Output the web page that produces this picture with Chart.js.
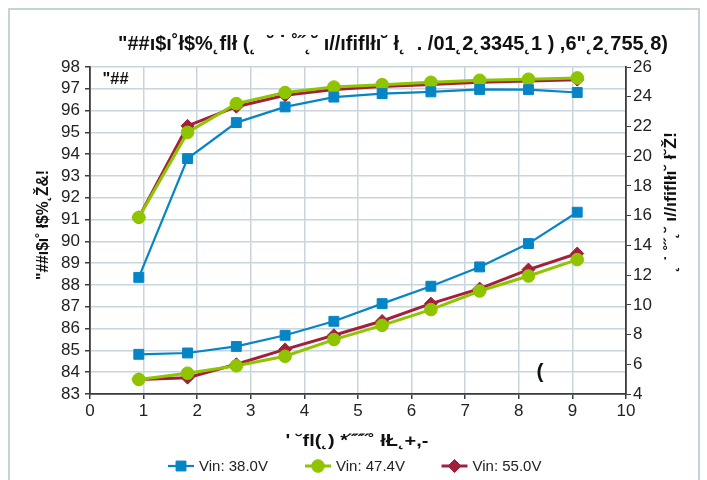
<!DOCTYPE html>
<html>
<head>
<meta charset="utf-8">
<script src="https://cdn.jsdelivr.net/npm/chart.js@4/dist/chart.umd.min.js"></script>
<style>
  html, body { margin: 0; padding: 0; background: #fff; }
  #wrap { width: 707px; height: 480px; }
</style>
</head>
<body>
<div id="wrap"><canvas id="chart" width="707" height="480"></canvas></div>
<script>
// load current (x values)
const loadA = [0.91, 1.82, 2.73, 3.64, 4.55, 5.45, 6.36, 7.27, 8.18, 9.09];

// efficiency, left axis
const eff38 = [88.35, 93.8, 95.45, 96.17, 96.62, 96.78, 96.86, 96.97, 96.96, 96.83];
const eff47 = [91.1, 95.0, 96.32, 96.83, 97.08, 97.19, 97.3, 97.39, 97.44, 97.5];
const eff55 = [91.1, 95.3, 96.18, 96.7, 96.97, 97.1, 97.2, 97.3, 97.36, 97.42];

// power loss, right axis
const loss38 = [6.67, 6.76, 7.2, 7.95, 8.89, 10.08, 11.25, 12.55, 14.12, 16.23];
const loss47 = [4.98, 5.4, 5.9, 6.54, 7.66, 8.62, 9.68, 10.93, 11.94, 13.04];
const loss55 = [4.98, 5.1, 6.0, 7.0, 7.95, 8.91, 10.08, 11.09, 12.37, 13.45];

const seriesNames = ["Vin: 38.0V", "Vin: 47.4V", "Vin: 55.0V"];

const titleText = '"##ı$ı˚ł$%˛flł (˛  ˘ ˙ ˚˝˛˘ ı//ıfiflłı˘ ł˛  . /01˛2˛3345˛1 ) ,6"˛2˛755˛8)';
const leftTitle = '"##ı$ı˚ ł$%˛Ž&!';
const rightTitle = '˛ ˙ ˚˝˛˘ ı//ıfiflłı˘ ł˘Ž!';
const xTitle = "' ˘fl(˛) *˝˝˝˚ łŁ˛+,-";

const BLUE = "#0685c6";
const GREEN = "#8fc400";
const RED = "#a3203a";
const GRID = "#c8d5dd";
const AXIS = "#3c3c3c";
const FONT = '"Liberation Sans", Arial, sans-serif';

const styles = [
  { color: BLUE, pointStyle: "rect", radius: 7, width: 2.2 },
  { color: GREEN, pointStyle: "circle", radius: 6.3, width: 3 },
  { color: RED, pointStyle: "rectRot", radius: 6.5, width: 3 },
];

function pts(ys) {
  return loadA.map((x, i) => ({ x: x, y: ys[i] }));
}

function ds(ys, s, axis) {
  return {
    data: pts(ys),
    yAxisID: axis,
    borderColor: s.color,
    backgroundColor: s.color,
    borderWidth: s.width,
    pointStyle: s.pointStyle,
    pointRadius: s.radius,
    pointBorderWidth: 1,
    pointBorderColor: s.color,
    pointBackgroundColor: s.color,
    tension: 0,
  };
}

// draw a string scaled to a given width, centred on (cx, cy)
function fitText(ctx, txt, size, w, cx, cy, rot) {
  ctx.save();
  ctx.font = "bold " + size + "px " + FONT;
  const m = ctx.measureText(txt).width;
  ctx.translate(cx, cy);
  if (rot) ctx.rotate(rot);
  ctx.scale(w / m, 1);
  ctx.textAlign = "center";
  ctx.textBaseline = "middle";
  ctx.fillStyle = "#111";
  ctx.fillText(txt, 0, 0);
  ctx.restore();
}

const decor = {
  id: "decor",
  beforeDraw(chart) {
    const ctx = chart.ctx;
    ctx.save();
    ctx.fillStyle = "#fff";
    ctx.fillRect(0, 0, chart.width, chart.height);
    ctx.strokeStyle = "#c3d2db";
    ctx.lineWidth = 2;
    ctx.strokeRect(9, 9, 690, 490);
    ctx.restore();
  },
  afterDraw(chart) {
    const ctx = chart.ctx;
    fitText(ctx, titleText, 21, 550, 393, 44);
    fitText(ctx, leftTitle, 16, 110, 44, 225, -Math.PI / 2);
    fitText(ctx, rightTitle, 16, 140, 672, 202, -Math.PI / 2);
    fitText(ctx, xTitle, 17, 143, 357, 441);
    fitText(ctx, '"##', 16, 26, 115.5, 80);
    fitText(ctx, "(", 21, 7, 540, 372);

    // legend: line + marker + label
    const lx = [168, 305, 441.5];
    const ly = 466;
    ctx.save();
    styles.forEach((s, i) => {
      ctx.strokeStyle = s.color;
      ctx.lineWidth = s.width;
      ctx.beginPath();
      ctx.moveTo(lx[i], ly);
      ctx.lineTo(lx[i] + 26, ly);
      ctx.stroke();
      ctx.fillStyle = s.color;
      ctx.lineWidth = 1;
      Chart.helpers.drawPoint(ctx, { pointStyle: s.pointStyle, radius: s.radius, rotation: 0, borderWidth: 1 }, lx[i] + 13, ly);
      ctx.fillStyle = "#222";
      ctx.font = "15px " + FONT;
      ctx.textAlign = "left";
      ctx.textBaseline = "middle";
      ctx.fillText(seriesNames[i], lx[i] + 31, ly + 1);
    });
    ctx.restore();
  },
};

new Chart(document.getElementById("chart"), {
  type: "line",
  data: {
    datasets: [
      ds(eff38, styles[0], "y"),
      ds(loss38, styles[0], "y2"),
      ds(eff47, styles[1], "y"),
      ds(loss47, styles[1], "y2"),
      ds(eff55, styles[2], "y"),
      ds(loss55, styles[2], "y2"),
    ],
  },
  options: {
    responsive: false,
    animation: false,
    devicePixelRatio: 1,
    layout: { padding: { top: 67, left: 0, right: 0, bottom: 0 } },
    plugins: { legend: { display: false }, title: { display: false }, tooltip: { enabled: false } },
    scales: {
      x: {
        type: "linear",
        min: 0,
        max: 10,
        ticks: { stepSize: 1, autoSkip: false, padding: 2, color: "#222", font: { family: FONT, size: 17 } },
        grid: { color: GRID, lineWidth: 1.5, tickLength: 5, tickColor: AXIS },
        border: { color: AXIS, width: 1.8 },
        afterFit(s) { s.height = 86; },
      },
      y: {
        position: "left",
        min: 83,
        max: 98,
        ticks: { stepSize: 1, autoSkip: false, padding: 5, color: "#222", font: { family: FONT, size: 17 } },
        grid: { color: GRID, lineWidth: 1.5, tickLength: 5, tickColor: AXIS },
        border: { color: AXIS, width: 1.8 },
        afterFit(s) { s.width = 90; },
      },
      y2: {
        position: "right",
        min: 4,
        max: 26,
        ticks: { stepSize: 2, autoSkip: false, padding: 2, color: "#222", font: { family: FONT, size: 17 } },
        grid: { drawOnChartArea: false, tickLength: 5, tickColor: AXIS },
        border: { color: AXIS, width: 1.8 },
        afterFit(s) { s.width = 81; },
      },
    },
  },
  plugins: [decor],
});
</script>
</body>
</html>
